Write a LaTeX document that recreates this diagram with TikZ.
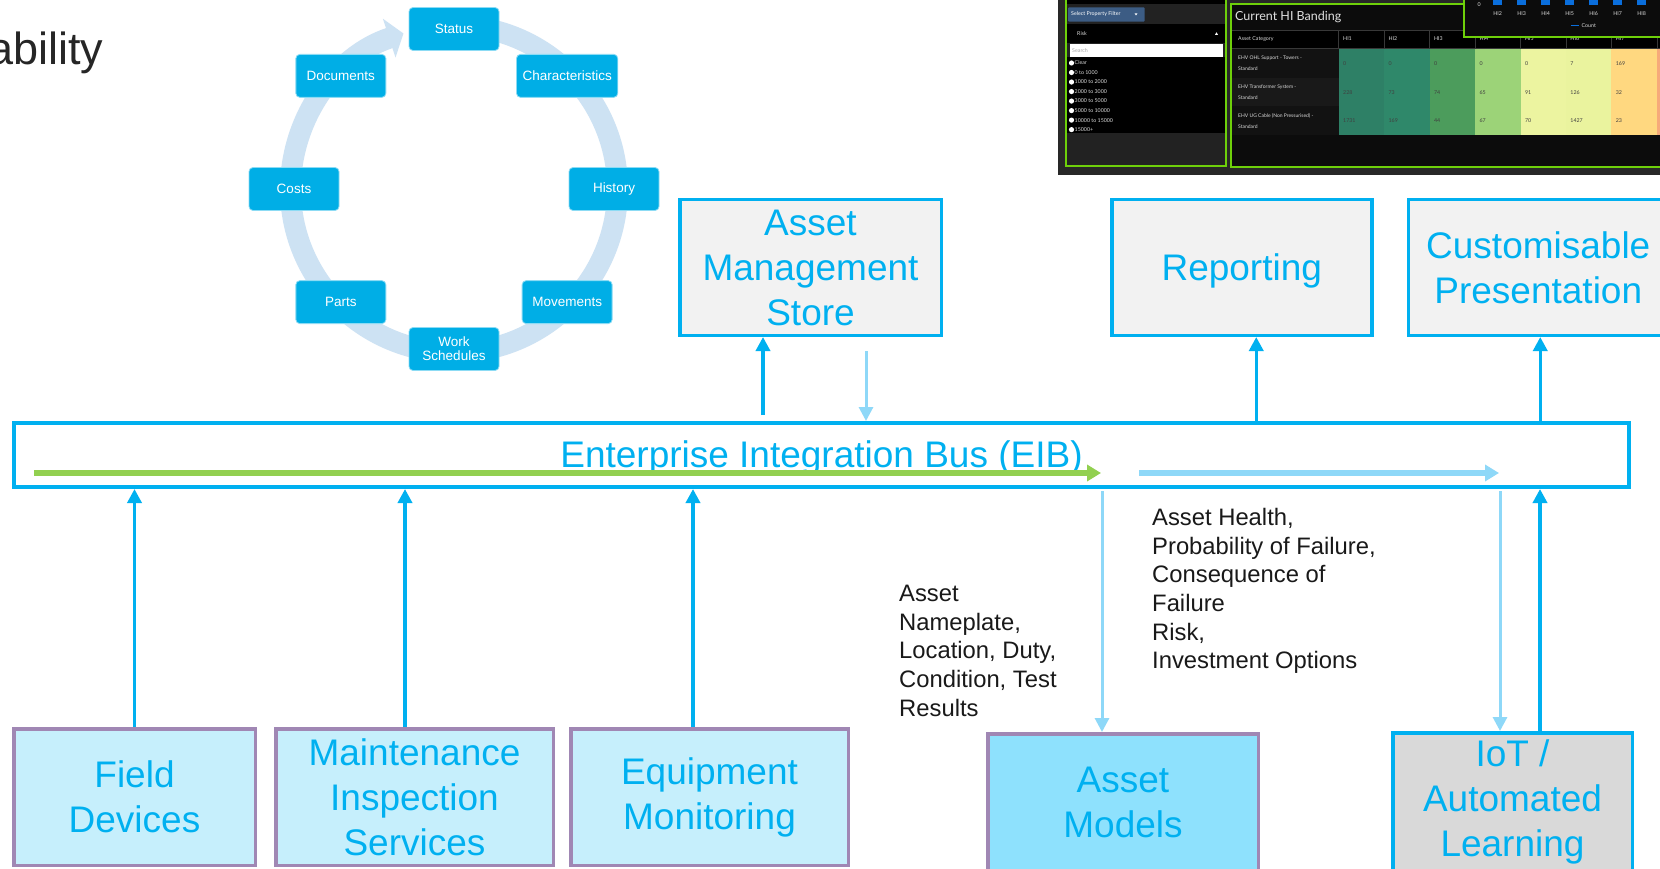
\documentclass[tikz,border=0pt]{standalone}
\usepackage{fontspec}
\setmainfont{Liberation Sans}
\newfontfamily\dashfont{Lato}
\usetikzlibrary{positioning,calc,arrows.meta}

\definecolor{eibblue}{RGB}{0,176,240}
\definecolor{flowblue}{RGB}{142,216,248}
\definecolor{flowgreen}{RGB}{146,208,80}
\definecolor{srcpurple}{RGB}{160,135,180}
\definecolor{srcfill}{RGB}{198,239,252}
\definecolor{modelfill}{RGB}{142,225,253}
\definecolor{storefill}{RGB}{242,242,242}
\definecolor{iotfill}{RGB}{217,217,217}
\definecolor{cyclefill}{RGB}{0,174,230}
\definecolor{ringblue}{RGB}{205,226,243}
\definecolor{titlegrey}{RGB}{38,38,38}
\definecolor{dashgreen}{RGB}{110,208,10}
\definecolor{dashback}{RGB}{40,40,40}
\definecolor{dashpanel}{RGB}{12,12,12}
\definecolor{dashfilter}{RGB}{34,34,34}
\definecolor{dashbutton}{RGB}{60,92,132}
\definecolor{dashbar}{RGB}{10,110,220}
\definecolor{hione}{RGB}{46,128,102}
\definecolor{hitwo}{RGB}{47,136,106}
\definecolor{hithree}{RGB}{76,156,92}
\definecolor{hifour}{RGB}{156,211,120}
\definecolor{hifive}{RGB}{236,244,160}
\definecolor{hisix}{RGB}{234,243,158}
\definecolor{hiseven}{RGB}{255,216,128}
\definecolor{hieight}{RGB}{246,170,122}

\begin{document}
\begin{tikzpicture}[x=1pt, y=1pt,
    topbox/.style={draw=eibblue, line width=3.5pt, fill=storefill, minimum width=260pt, minimum height=135.5pt, inner sep=0pt, text=eibblue, align=center, font=\fontsize{37}{45}\selectfont},
    srcbox/.style={draw=srcpurple, line width=3.5pt, fill=srcfill, minimum height=136.5pt, inner sep=0pt, text=eibblue, align=center, font=\fontsize{37}{45}\selectfont},
    busbox/.style={draw=eibblue, line width=4pt, fill=white, minimum width=1615pt, minimum height=64pt, inner sep=0pt, text=eibblue, font=\fontsize{37}{45}\selectfont},
    oneline/.style={text height=33.5pt, text depth=7.8pt},
    cyclebox/.style={fill=cyclefill, draw=white!55!cyclefill, line width=0.8pt, rounded corners=4pt, minimum width=90pt, minimum height=43pt, inner xsep=6pt, text=white, align=center, font=\fontsize{13.5}{14}\selectfont},
    ring/.style={ringblue, line width=21pt, -{Triangle[width=40pt, length=15pt]}},
    upflow/.style={eibblue, line width=3.5pt, -{Triangle[width=14pt, length=14pt]}},
    downflow/.style={flowblue, line width=3pt, -{Triangle[width=14pt, length=14pt]}},
    busflow/.style={line width=6pt, -{Triangle[width=16pt, length=14pt]}},
    note/.style={anchor=north west, inner sep=0pt, align=left, text=black!90, font=\fontsize{23.8}{28.7}\selectfont},
    dashtext/.style={anchor=west, inner sep=0pt, text=white!85!black, font=\dashfont\fontsize{5.3}{6}\selectfont}]
  \path[use as bounding box, clip] (0,0) rectangle (1660,-869);
  \fill[white] (0,0) rectangle (1660,-869);

  \node[anchor=base west, inner sep=0pt, text=titlegrey, font=\fontsize{45}{54}\selectfont] (heading) at (-12,-65) {ability};

  \fill[dashback] (1058,0) rectangle (1660,-175);
  \draw[dashgreen, line width=2pt, fill=dashfilter] (1066,4) rectangle (1226,-166.5);
  \fill[black] (1067,0) rectangle (1225,-4);
  \fill[dashbutton, rounded corners=1pt] (1068,-7.3) rectangle (1144.6,-21.7);
  \node[dashtext, text=white] (filterlbl) at (1071,-14.5) {Select Property Filter};
  \fill[white] (1134.5,-13.3) -- (1137.5,-13.3) -- (1136,-15.5) -- cycle;
  \fill[black] (1067,-24) rectangle (1225,-43);
  \node[dashtext] (risk) at (1077,-33.5) {Risk};
  \fill[white] (1215,-34.8) -- (1218,-34.8) -- (1216.5,-32.3) -- cycle;
  \fill[white] (1069.5,-44) rectangle (1222.8,-57.3);
  \node[dashtext, text=black!35] (search) at (1072,-50.7) {Search};
  \fill[black] (1067,-57.3) rectangle (1225,-133);
  \foreach \band [count=\k] in {Clear, 0 to 1000, 1000 to 2000, 2000 to 3000, 3000 to 5000, 5000 to 10000, 10000 to 15000, 15000+} {
    \fill[white] (1071.5,{-63-9.52*(\k-1)}) circle (2.6pt);
    \node[dashtext] (band\k) at (1074.5,{-63-9.52*(\k-1)}) {\band};
  }

  \draw[dashgreen, line width=2pt, fill=dashpanel] (1231,-4) rectangle (1680,-166.7);
  \node[dashtext, text=white!88!black, font=\dashfont\fontsize{12.5}{14}\selectfont] (banding) at (1235,-16.7) {Current HI Banding};
  \fill[black] (1232,-30) rectangle (1670,-48.3);
  \draw[white!22!black, line width=0.5pt] (1232,-30) -- (1670,-30) (1232,-48.3) -- (1670,-48.3);
  \node[dashtext] (category) at (1238,-39) {Asset Category};
  \foreach \c in {1,...,8} {
    \draw[white!22!black, line width=0.5pt] ({1338.7+45.45*(\c-1)},-30) -- ++(0,-18.3);
    \node[dashtext] (hi\c) at ({1343+45.45*(\c-1)},-39) {HI\c};
  }
  \fill[white!7!black] (1232,-49.3) rectangle (1338.7,-77.9);
  \fill[white!10!black] (1232,-77.9) rectangle (1338.7,-106.5);
  \fill[white!7!black] (1232,-106.5) rectangle (1338.7,-135);
  \foreach \lbl [count=\r] in {{EHV OHL Support - Towers -\\Standard}, {EHV Transformer System -\\Standard}, {EHV UG Cable (Non Pressurised) -\\Standard}}
    \node[dashtext, align=left, font=\dashfont\fontsize{5}{11}\selectfont] (asset\r) at (1238,{-63.6-28.6*(\r-1)}) {\lbl};
  \foreach \shade [count=\c] in {hione, hitwo, hithree, hifour, hifive, hisix, hiseven, hieight}
    \fill[\shade] ({1338.7+45.45*(\c-1)},-49.3) rectangle ++(45.45,-85.7);
  \foreach \vals [count=\r] in {{0,0,0,0,0,7,169}, {228,73,74,65,91,126,32}, {1731,169,44,67,70,1427,23}}
    \foreach \v [count=\c] in \vals
      \node[dashtext, text=black!75] (val\r\c) at ({1343+45.45*(\c-1)},{-63.6-28.6*(\r-1)}) {\v};

  \draw[dashgreen, line width=2pt, fill=dashpanel] (1464,4) rectangle (1680,-36.7);
  \node[dashtext] (zero) at (1477.5,-5) {0};
  \foreach \k in {2,...,8} {
    \fill[dashbar] ({1493.2+24*(\k-2)},1) rectangle ++(9,-6);
    \node[dashtext, anchor=center] (bar\k) at ({1497.7+24*(\k-2)},-13.3) {HI\k};
  }
  \draw[dashbar, line width=1.3pt] (1570.7,-25.3) -- (1579,-25.3);
  \node[dashtext] (count) at (1581.5,-25.3) {Count};

  \coordinate (hub) at (454,-189);
  \draw[ring] ($(hub)+(90:163.5)$) arc[start angle=90, end angle=-252, radius=163.5];
  \foreach \lbl [count=\i] in {Status, Characteristics, History, Movements, {Work\\Schedules}, Parts, Costs, Documents}
    \node[cyclebox] (cyc\i) at ($(hub)+({135-45*\i}:160)$) {\lbl};

  \node[topbox, minimum width=261.5pt] (ams) at (810.5,-267.5) {Asset\\Management\\Store};
  \node[topbox, oneline, right=167pt of ams] (rep) {Reporting};
  \node[topbox, right=33pt of rep] (cust) {Customisable\\Presentation};

  \node[busbox, oneline] (eib) at (821.5,-455) {Enterprise Integration Bus (EIB)};
  \draw[busflow, flowgreen] ([xshift=22pt, yshift=-18pt]eib.west) -- ([xshift=1089pt, yshift=-18pt]eib.west);
  \draw[busflow, flowblue] ([xshift=1127pt, yshift=-18pt]eib.west) -- ([xshift=1487pt, yshift=-18pt]eib.west);

  \node[srcbox, minimum width=241.5pt] (field) at (134.5,-797) {Field\\Devices};
  \node[srcbox, minimum width=277.5pt, right=17pt of field] (maint) {Maintenance\\Inspection\\Services};
  \node[srcbox, minimum width=277.5pt, right=14pt of maint] (equip) {Equipment\\Monitoring};
  \node[srcbox, fill=modelfill, minimum width=270.5pt] (models) at (1123,-802) {Asset\\Models};
  \node[topbox, fill=iotfill, minimum width=239.5pt, minimum height=138.5pt, right=131pt of models] (iot) {IoT /\\Automated\\Learning};

  \node[note] (inputs) at (899,-585) {Asset\\Nameplate,\\Location, Duty,\\Condition, Test\\Results};
  \node[note] (outputs) at (1152,-508) {Asset Health,\\Probability of Failure,\\Consequence of\\Failure\\Risk,\\Investment Options};

  \draw[upflow, shorten <=6pt, transform canvas={xshift=-47.5pt}] (eib.north -| ams.south) -- (ams.south);
  \draw[downflow, shorten <=14pt, transform canvas={xshift=55.5pt}] (ams.south) -- (ams.south |- eib.north);
  \draw[upflow, transform canvas={xshift=14.5pt}] (eib.north -| rep.south) -- (rep.south);
  \draw[upflow, transform canvas={xshift=2pt}] (eib.north -| cust.south) -- (cust.south);
  \draw[upflow] (field.north) -- (field.north |- eib.south);
  \draw[upflow, transform canvas={xshift=-9.5pt}] (maint.north) -- (maint.north |- eib.south);
  \draw[upflow, transform canvas={xshift=-16.5pt}] (equip.north) -- (equip.north |- eib.south);
  \draw[downflow, shorten <=2pt, transform canvas={xshift=-21pt}] (eib.south -| models.north) -- (models.north);
  \draw[downflow, shorten <=2pt, transform canvas={xshift=-12.5pt}] (eib.south -| iot.north) -- (iot.north);
  \draw[upflow, transform canvas={xshift=27.5pt}] (iot.north) -- (iot.north |- eib.south);
\end{tikzpicture}
\end{document}
